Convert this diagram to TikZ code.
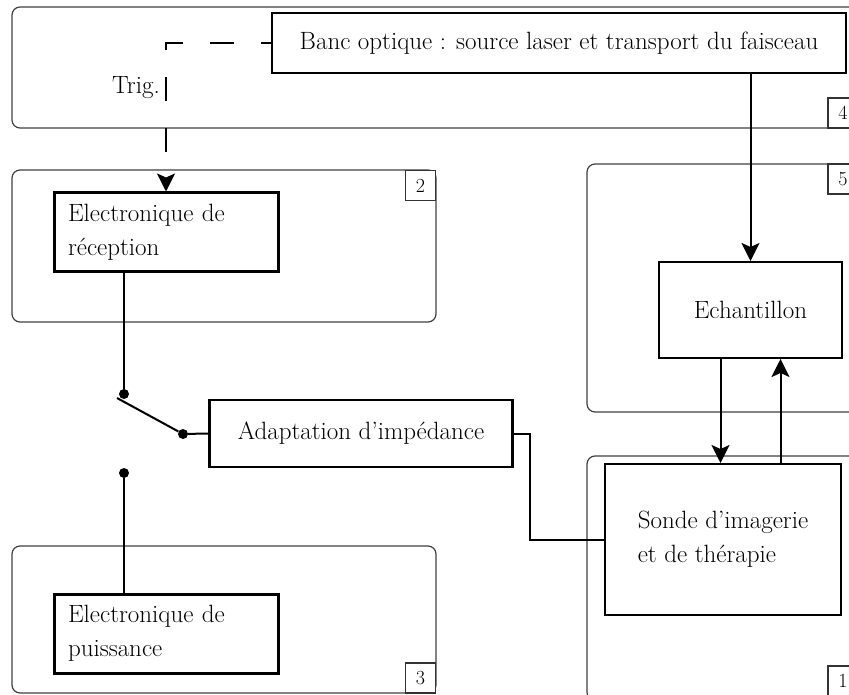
\documentclass[tikz,border=0pt]{standalone}
\usepackage{fontspec}
\usetikzlibrary{arrows.meta}

\begin{document}
\begin{tikzpicture}[x=1pt, y=-1pt, font=\fontsize{25}{34}\selectfont,
    zone/.style={draw=black!75, line width=1.2pt, rounded corners=8pt},
    numbox/.style={draw=black!80, fill=white, line width=1.2pt, minimum width=30pt, minimum height=30pt, inner sep=0pt, font=\fontsize{20}{20}\selectfont},
    bloc/.style={draw, line width=2.5pt, inner sep=0pt},
    fil/.style={line width=2pt},
    fleche/.style={fil, -{Stealth[length=18pt, width=18pt, inset=4pt]}},
    plot/.style={circle, fill, inner sep=0pt, minimum size=10pt}]
    % page
    \clip (0,0) rectangle (849,695);
    % zones 4, 2, 3, 5, 1
    \draw[zone] (12,7) rectangle (858,128);
    \draw[zone] (12,170) rectangle (436,322);
    \draw[zone] (12,546) rectangle (436,693);
    \draw[zone] (587,164) rectangle (858,412);
    \draw[zone] (587,456) rectangle (858,700);
    \node[numbox] (n4) at (843,113) {4};
    \node[numbox] (n2) at (420.5,185.5) {2};
    \node[numbox] (n3) at (420.5,678) {3};
    \node[numbox] (n5) at (843,179) {5};
    \node[numbox] (n1) at (843,681) {1};
    % blocs
    \node[bloc, minimum width=574pt, minimum height=60pt] (banc) at (559,43) {Banc optique : source laser et transport du faisceau};
    \node[bloc, line width=3pt, minimum height=79pt, text width=196pt, inner xsep=14pt, align=left] (recep) at (166,232.5) {Electronique de\\réception};
    \node[bloc, line width=3pt, minimum height=79pt, text width=196pt, inner xsep=14pt, align=left] (puiss) at (166,633.5) {Electronique de\\puissance};
    \node[bloc, minimum width=303pt, minimum height=67pt] (adapt) at (361,433.5) {Adaptation d'impédance};
    \node[bloc, line width=2pt, minimum width=183pt, minimum height=96pt] (echant) at (750.5,310) {Echantillon};
    \node[bloc, line width=2pt, minimum width=236pt, minimum height=151pt, align=left] (sonde) at (723,539.5) {Sonde d'imagerie\\et de thérapie};
    \node (trig) at (136,88) {Trig.};
    % commutateur
    \node[plot] (sa) at (124,394) {};
    \node[plot] (sb) at (183,434) {};
    \node[plot] (sc) at (124,473) {};
    \coordinate (levier) at (117,398);
    % trigger, dashed
    \draw[fleche, dash pattern=on 24pt off 27pt, dash phase=14pt] (banc.west) -| (recep.north);
    % liaisons
    \draw[fil] (recep.south -| sa) -- (sa);
    \draw[fil] (levier) -- (sb);
    \draw[fil] (sb) -- (adapt.west);
    \draw[fil] (sc) -- (sc |- puiss.north);
    \draw[fil] (adapt.east) -- ++(16,0) |- (sonde.west);
    % laser et retour
    \draw[fleche] (echant.north |- banc.south) -- (echant.north);
    \draw[fleche] ([xshift=-30pt]echant.south) -- ([xshift=-30pt]echant.south |- sonde.north);
    \draw[fleche] ([xshift=30pt]echant.south |- sonde.north) -- ([xshift=30pt]echant.south);
\end{tikzpicture}
\end{document}
